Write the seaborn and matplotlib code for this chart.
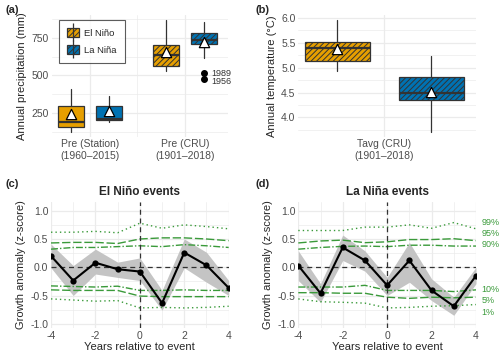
import numpy as np
import pandas as pd
import matplotlib
matplotlib.use("Agg")
import matplotlib.pyplot as plt
import seaborn as sns
from matplotlib.patches import Patch
from matplotlib.lines import Line2D

# ---- data -------------------------------------------------------------
pre_groups = ["Pre (Station)\n(1960–2015)", "Pre (CRU)\n(1901–2018)"]
# order of stats: whisker low, q1, median, q3, whisker high, mean
pre_elnino = [[128, 157, 192, 301, 410, 244], [528, 563, 633, 699, 867, 657]]
pre_lanina = [[195, 205, 213, 299, 364, 262], [614, 706, 734, 783, 856, 723]]
pre_lanina_outliers = [515, 477]
outlier_years = ["1989", "1956"]

tmp_groups = ["Tavg (CRU)\n(1901–2018)"]
tmp_elnino = [[4.93, 5.13, 5.40, 5.52, 5.95, 5.38]]
tmp_lanina = [[3.71, 4.35, 4.50, 4.82, 5.23, 4.51]]

years = [-4, -3, -2, -1, 0, 1, 2, 3, 4]

nino_mean = [0.20, -0.235, 0.08, -0.035, -0.076, -0.635, 0.26, 0.035, -0.365]
nino_upper = [0.41, 0.03, 0.32, 0.09, 0.165, -0.41, 0.50, 0.265, -0.235]
nino_lower = [-0.01, -0.50, -0.12, -0.18, -0.235, -0.76, -0.01, -0.265, -0.50]
nino_p99 = [0.62, 0.62, 0.635, 0.61, 0.78, 0.69, 0.75, 0.72, 0.68]
nino_p95 = [0.43, 0.44, 0.44, 0.42, 0.50, 0.52, 0.52, 0.50, 0.47]
nino_p90 = [0.32, 0.35, 0.35, 0.365, 0.38, 0.365, 0.40, 0.38, 0.35]
nino_p10 = [-0.33, -0.34, -0.35, -0.335, -0.41, -0.41, -0.40, -0.41, -0.41]
nino_p05 = [-0.40, -0.41, -0.41, -0.41, -0.51, -0.52, -0.52, -0.52, -0.52]
nino_p01 = [-0.56, -0.58, -0.60, -0.59, -0.72, -0.71, -0.72, -0.71, -0.69]

nina_mean = [0.03, -0.46, 0.35, 0.12, -0.32, 0.12, -0.41, -0.69, -0.15]
nina_upper = [0.29, -0.29, 0.57, 0.29, -0.18, 0.44, -0.205, -0.53, 0.0]
nina_lower = [-0.235, -0.62, 0.12, -0.07, -0.50, -0.265, -0.59, -0.85, -0.29]
nina_p99 = [0.65, 0.65, 0.65, 0.71, 0.71, 0.75, 0.69, 0.79, 0.68]
nina_p95 = [0.43, 0.465, 0.48, 0.435, 0.45, 0.49, 0.49, 0.505, 0.47]
nina_p90 = [0.32, 0.35, 0.37, 0.375, 0.365, 0.39, 0.39, 0.375, 0.375]
nina_p10 = [-0.35, -0.35, -0.35, -0.32, -0.41, -0.41, -0.41, -0.43, -0.40]
nina_p05 = [-0.45, -0.45, -0.46, -0.46, -0.53, -0.55, -0.53, -0.54, -0.53]
nina_p01 = [-0.56, -0.61, -0.62, -0.635, -0.72, -0.71, -0.69, -0.68, -0.66]

pct_labels = ["99%", "95%", "90%", "10%", "5%", "1%"]
pct_label_y = [0.80, 0.60, 0.40, -0.39, -0.59, -0.80]

# ---- style ------------------------------------------------------------
sns.set_theme(style="whitegrid")
plt.rcParams["font.family"] = ["Liberation Sans", "DejaVu Sans"]
plt.rcParams["hatch.linewidth"] = 0.7
GRID = "#EBEBEB"
TXT = "#4D4D4D"
ORANGE = "#E69F00"
BLUE = "#0072B2"
EDGE = "#333333"
GREEN = "#3A9A3A"

fig = plt.figure(figsize=(5, 3.61), dpi=100)
ax_a = fig.add_axes([0.1034, 0.6213, 0.3532, 0.3371])
ax_b = fig.add_axes([0.5966, 0.6213, 0.3554, 0.3371])
ax_c = fig.add_axes([0.102, 0.0906, 0.3554, 0.3507])
ax_d = fig.add_axes([0.5966, 0.0906, 0.3554, 0.3507])


def style_ax(ax):
    for s in ax.spines.values():
        s.set_visible(False)
    ax.set_facecolor("white")
    ax.grid(True, which="major", color=GRID, lw=0.9)
    ax.grid(True, which="minor", color=GRID, lw=0.5)
    ax.tick_params(which="both", length=0, labelsize=7.5, labelcolor=TXT, pad=2)
    ax.set_axisbelow(True)


def draw_boxes(ax, stats_list, pos, color, hatched, width):
    stats = []
    for s in stats_list:
        stats.append(dict(whislo=s[0], q1=s[1], med=s[2], q3=s[3], whishi=s[4], fliers=[]))
    b = ax.bxp(stats, positions=pos, widths=width, patch_artist=True, showcaps=False,
               boxprops=dict(facecolor=color, edgecolor=EDGE, lw=0.9),
               medianprops=dict(color=EDGE, lw=1.6),
               whiskerprops=dict(color=EDGE, lw=0.9), manage_ticks=False)
    for i, box in enumerate(b["boxes"]):
        if hatched[i]:
            box.set_hatch("//////")
    ax.scatter(pos, [s[5] for s in stats_list], marker="^", s=55, color="white",
               edgecolor="black", lw=0.9, zorder=5)


# ---- (a) precipitation ----------------------------------------------
style_ax(ax_a)
xa = np.arange(1, len(pre_groups) + 1)
draw_boxes(ax_a, pre_elnino, xa - 0.2, ORANGE, [False, True], 0.283)
draw_boxes(ax_a, pre_lanina, xa + 0.2, BLUE, [False, True], 0.283)
ax_a.scatter([2.2] * len(pre_lanina_outliers), pre_lanina_outliers, s=16, color="black", zorder=5)
ax_a.text(2.28, pre_lanina_outliers[0], outlier_years[0], fontsize=6.5, color=EDGE, va="center")
ax_a.text(2.28, pre_lanina_outliers[1] - 15, outlier_years[1], fontsize=6.5, color=EDGE, va="center")
ax_a.set_xlim(0.597, 2.456)
ax_a.set_ylim(95, 900)
ax_a.set_xticks(xa)
ax_a.set_xticks([1.5], minor=True)
ax_a.set_xticklabels(pre_groups)
ax_a.set_yticks([250, 500, 750])
ax_a.set_yticks([125, 375, 625, 875], minor=True)
ax_a.set_ylabel("Annual precipitation (mm)", fontsize=8, labelpad=3)

vbar = Line2D([], [], marker="|", markersize=13, color=EDGE, linestyle="none", mew=0.9)
h1 = (Patch(facecolor=ORANGE, edgecolor=EDGE, hatch="//////", lw=0.9), vbar)
h2 = (Patch(facecolor=BLUE, edgecolor=EDGE, hatch="//////", lw=0.9), vbar)
leg = ax_a.legend([h1, h2], ["El Niño", "La Niña"], loc="upper left",
                  bbox_to_anchor=(0.041, 0.96), borderaxespad=0, fontsize=6.8,
                  frameon=True, fancybox=False, handlelength=1.2, handleheight=1.1,
                  handletextpad=0.6, borderpad=0.9, labelspacing=0.75)
leg.get_frame().set_edgecolor(EDGE)
leg.get_frame().set_linewidth(0.8)

# ---- (b) temperature ----------------------------------------------------
style_ax(ax_b)
xb = np.arange(1, len(tmp_groups) + 1)
draw_boxes(ax_b, tmp_elnino, xb - 0.2, ORANGE, [True], 0.275)
draw_boxes(ax_b, tmp_lanina, xb + 0.2, BLUE, [True], 0.275)
ax_b.set_xlim(0.634, 1.39)
ax_b.set_ylim(3.61, 6.06)
ax_b.set_xticks(xb)
ax_b.set_xticklabels(tmp_groups)
ax_b.set_yticks([4.0, 4.5, 5.0, 5.5, 6.0])
ax_b.set_yticks([3.75, 4.25, 4.75, 5.25, 5.75], minor=True)
ax_b.set_ylabel("Annual temperature (°C)", fontsize=8, labelpad=3)


# ---- (c) / (d) growth anomaly --------------------------------------
def growth_panel(ax, title, mean, upper, lower, pcts):
    style_ax(ax)
    ax.fill_between(years, lower, upper, color="#C4C4C4", lw=0, zorder=1)
    styles = [(0, (1, 2.2)), (0, (6, 2)), (0, (5, 1.5, 1, 1.5)),
              (0, (5, 1.5, 1, 1.5)), (0, (6, 2)), (0, (1, 2.2))]
    for vals, ls in zip(pcts, styles):
        sns.lineplot(x=years, y=vals, ax=ax, color=GREEN, lw=1.0, linestyle=ls, zorder=2)
    ax.axhline(0, color="#333333", lw=0.9, ls=(0, (4, 3)), zorder=3)
    ax.axvline(0, color="#333333", lw=0.9, ls=(0, (4, 3)), zorder=3)
    sns.lineplot(x=years, y=mean, ax=ax, color="black", lw=1.5, marker="o",
                 markersize=4.5, markeredgewidth=0, zorder=4)
    ax.set_xlim(-4, 4)
    ax.set_ylim(-1.08, 1.16)
    ax.set_xticks([-4, -2, 0, 2, 4])
    ax.set_xticklabels(["-4", "-2", "0", "2", "4"])
    ax.set_xticks([-3, -1, 1, 3], minor=True)
    ax.set_yticks([-1.0, -0.5, 0.0, 0.5, 1.0])
    ax.set_yticklabels(["-1.0", "-0.5", "0.0", "0.5", "1.0"])
    ax.set_yticks([-0.75, -0.25, 0.25, 0.75], minor=True)
    ax.set_xlabel("Years relative to event", fontsize=8, labelpad=1)
    ax.set_ylabel("Growth anomaly (z-score)", fontsize=8, labelpad=3)
    ax.set_title(title, fontsize=8.5, fontweight="bold", pad=5)


growth_panel(ax_c, "El Niño events", nino_mean, nino_upper, nino_lower,
             [nino_p99, nino_p95, nino_p90, nino_p10, nino_p05, nino_p01])
growth_panel(ax_d, "La Niña events", nina_mean, nina_upper, nina_lower,
             [nina_p99, nina_p95, nina_p90, nina_p10, nina_p05, nina_p01])
for lab, y in zip(pct_labels, pct_label_y):
    ax_d.text(4.25, y, lab, fontsize=6.5, color=GREEN, va="center", ha="left", clip_on=False)

# panel tags
for tag, x, y in [("(a)", 0.01, 0.985), ("(b)", 0.512, 0.985), ("(c)", 0.01, 0.505), ("(d)", 0.512, 0.505)]:
    fig.text(x, y, tag, fontsize=8, fontweight="bold", va="top", ha="left")

fig.savefig("out.png", dpi=100)
